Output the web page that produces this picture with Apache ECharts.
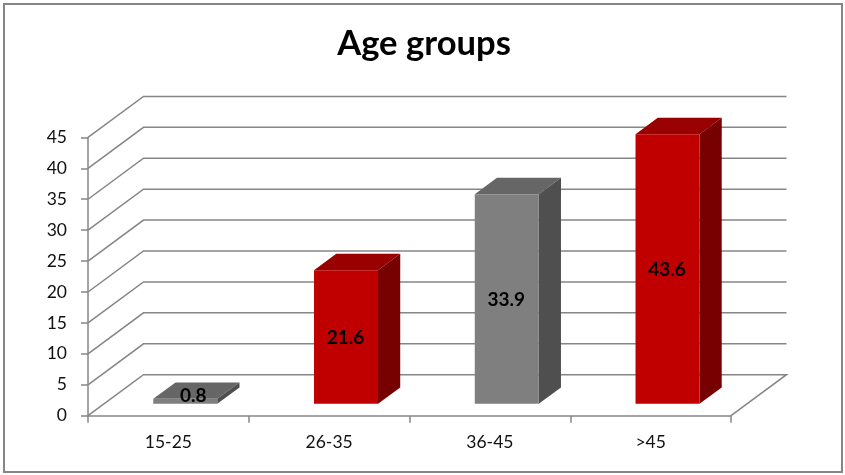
<!DOCTYPE html>
<html>
<head>
<meta charset="utf-8">
<style>html,body{margin:0;padding:0;background:#fff}#c{width:845px;height:475px}</style>
<script src="https://cdn.jsdelivr.net/npm/echarts@6/dist/echarts.min.js"></script>
</head>
<body>
<div id="c"></div>
<script>
const categories = ['15-25', '26-35', '36-45', '>45'];
const values = [0.8, 21.6, 33.9, 43.6];
const yTicks = [0, 5, 10, 15, 20, 25, 30, 35, 40, 45];
const titleText = 'Age groups';

const GREY = { front: '#7f7f7f', top: '#666666', side: '#4f4f4f' };
const RED = { front: '#c00000', top: '#990000', side: '#770000' };
const palette = [GREY, RED, GREY, RED];
const GRID = '#868686';
const FONT = 'Lato, "Open Sans", sans-serif';

// oblique projection of the depth axis
const DX = 55.5, DY = -41;
const NEAR = 0.29, FAR = 0.69;
const BAR_W = 64;

const chart = echarts.init(document.getElementById('c'));

function poly(pts, fill) {
  return { type: 'polygon', shape: { points: pts }, style: { fill: fill, stroke: null } };
}

chart.setOption({
  animation: false,
  backgroundColor: '#fff',
  title: {
    text: titleText, left: 419, top: 21, textAlign: 'center',
    textStyle: { fontFamily: FONT, fontWeight: 'bold', fontSize: 34.6, color: '#000' }
  },
  grid: { left: 88, right: 114, top: 137.4, bottom: 59.3, containLabel: false },
  xAxis: {
    type: 'category', data: categories,
    axisLine: { lineStyle: { color: GRID, width: 1.5 } },
    axisTick: { show: true, length: 7, lineStyle: { color: GRID, width: 1.5 } },
    axisLabel: { margin: 18, fontFamily: FONT, fontSize: 17.5, color: '#111' },
    splitLine: { show: false }
  },
  yAxis: {
    type: 'value', min: 0, max: 45, interval: 5,
    axisLine: { show: true, lineStyle: { color: GRID, width: 1.5 } },
    axisTick: { show: true, length: 7, lineStyle: { color: GRID, width: 1.5 } },
    axisLabel: { margin: 21, fontFamily: FONT, fontSize: 17.5, color: '#111' },
    splitLine: { show: false }
  },
  graphic: [{
    type: 'rect', left: 3, top: 3, silent: true, z: -1,
    shape: { width: 838, height: 468 },
    style: { fill: 'transparent', stroke: GRID, lineWidth: 2 }
  }],
  series: [
    {
      type: 'custom', coordinateSystem: 'cartesian2d', z: 1,
      data: yTicks.map(v => [0, v]), silent: true,
      renderItem: function (params, api) {
        const v = api.value(1);
        const sys = params.coordSys;
        const y = api.coord([0, v])[1];
        const x0 = sys.x, x1 = sys.x + sys.width;
        const pts = [[x0, y], [x0 + DX, y + DY], [x1 + DX, y + DY]];
        if (v === 0) pts.push([x1, y]);
        return { type: 'polyline', shape: { points: pts },
          style: { fill: null, stroke: GRID, lineWidth: 1.5 } };
      }
    },
    {
      type: 'custom', coordinateSystem: 'cartesian2d', z: 2,
      data: values.map((v, i) => [i, v]), silent: true,
      encode: { x: 0, y: 1 },
      renderItem: function (params, api) {
        const i = api.value(0), v = api.value(1);
        const c = palette[i];
        const top = api.coord([i, v]), base = api.coord([i, 0]);
        const nx = DX * NEAR, ny = DY * NEAR, fx = DX * (FAR - NEAR), fy = DY * (FAR - NEAR);
        const l = top[0] + nx - BAR_W / 2 + 0.8, r = l + BAR_W;
        const t = top[1] + ny, b = base[1] + ny;
        const thin = b - t < 18;
        return { type: 'group', children: [
          poly([[l, t], [r, t], [r + fx, t + fy], [l + fx, t + fy]], c.top),
          poly([[r, t], [r + fx, t + fy], [r + fx, b + fy], [r, b]], c.side),
          poly([[l, t], [r, t], [r, b], [l, b]], c.front),
          { type: 'text', z2: 5, style: {
              x: (l + r) / 2 + (thin ? 8 : -0.5), y: thin ? t - 3 : (t + b) / 2 + 1,
              text: String(v), align: 'center', verticalAlign: 'middle',
              font: 'bold 19px ' + FONT, fill: '#000' } }
        ] };
      }
    }
  ]
});
</script>
</body>
</html>
